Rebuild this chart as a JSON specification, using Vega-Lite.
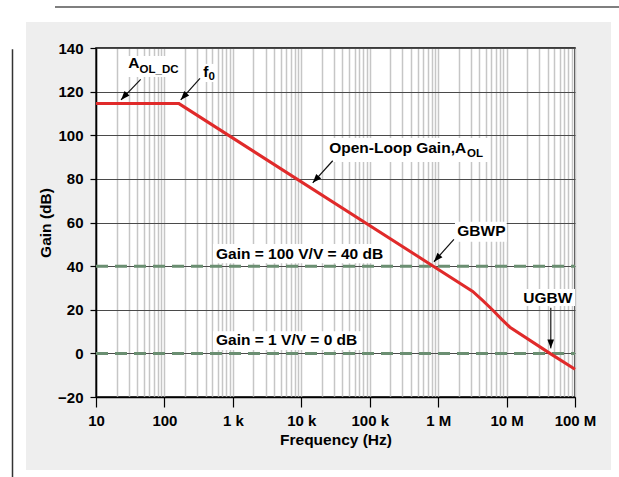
{
  "$schema": "https://vega.github.io/schema/vega-lite/v6.json",
  "width": 479,
  "height": 349,
  "autosize": {"type": "none"},
  "padding": {"left": 96, "top": 48, "right": 44, "bottom": 80},
  "background": "#eeeeee",
  "config": {
    "font": "Liberation Sans",
    "view": {"fill": "white", "stroke": "black", "strokeWidth": 1.5},
    "axis": {
      "domainColor": "black",
      "domainWidth": 1.5,
      "tickColor": "black",
      "tickWidth": 1.2,
      "labelFont": "Liberation Sans",
      "labelFontSize": 15,
      "labelFontWeight": "bold",
      "labelColor": "black",
      "titleFont": "Liberation Sans",
      "titleFontSize": 15.5,
      "titleFontWeight": "bold",
      "titleColor": "black"
    }
  },
  "datasets": {
    "aol": [
      {"freq": 10, "gain": 114.5},
      {"freq": 163, "gain": 114.5},
      {"freq": 3200000, "gain": 28.4},
      {"freq": 4500000, "gain": 24.2},
      {"freq": 6200000, "gain": 20.0},
      {"freq": 8500000, "gain": 15.6},
      {"freq": 11200000, "gain": 12.0},
      {"freq": 43000000, "gain": 0.0},
      {"freq": 100000000, "gain": -7.3}
    ],
    "levels": [
      {"freq": 10, "freq2": 100000000, "gain": 40},
      {"freq": 10, "freq2": 100000000, "gain": 0}
    ],
    "boxes": [
      {"freq": 27.4, "freq2": 174.6, "gain": 136.3, "gain2": 126.7},
      {"freq": 342, "freq2": 567, "gain": 132.7, "gain2": 124.4},
      {"freq": 22960, "freq2": 5360000, "gain": 98.7, "gain2": 87.7},
      {"freq": 1760000, "freq2": 10050000, "gain": 60.4, "gain2": 51.2},
      {"freq": 513, "freq2": 173000, "gain": 50.1, "gain2": 41.3},
      {"freq": 513, "freq2": 74700, "gain": 10.2, "gain2": 1.6},
      {"freq": 16300000, "freq2": 100000000, "gain": 29.5, "gain2": 21.7}
    ],
    "slantArrows": [
      {"freq": 45.0, "gain": 125.6, "freq2": 23.2, "gain2": 116.2},
      {"freq": 331, "gain": 126.1, "freq2": 173, "gain2": 116.2},
      {"freq": 28800, "gain": 88.3, "freq2": 14700, "gain2": 78.2},
      {"freq": 1700000, "gain": 52.3, "freq2": 869000, "gain2": 42.0}
    ],
    "downArrows": [
      {"freq": 44200000, "gain": 20.9, "freq2": 44200000, "gain2": 2.3}
    ],
    "labels": [
      {"text": "A", "freq": 29.6, "gain": 130.7},
      {"text": "f", "freq": 370, "gain": 126.6},
      {"text": "Open-Loop Gain,A", "freq": 25600, "gain": 92.0},
      {"text": "GBWP", "freq": 1905000, "gain": 53.8},
      {"text": "Gain = 100 V/V = 40 dB", "freq": 567, "gain": 43.1},
      {"text": "Gain = 1 V/V = 0 dB", "freq": 567, "gain": 3.8},
      {"text": "UGBW", "freq": 17500000, "gain": 22.9}
    ],
    "subscripts": [
      {"text": "OL_DC", "freq": 43.3, "gain": 128.4},
      {"text": "0", "freq": 440, "gain": 125.3},
      {"text": "OL", "freq": 2650000, "gain": 89.9}
    ]
  },
  "layer": [
    {
      "data": {"name": "boxes"},
      "mark": {"type": "rect", "fill": "white"},
      "encoding": {
        "x": {"field": "freq", "type": "quantitative", "scale": {"type": "log", "domain": [10, 100000000], "nice": false}},
        "x2": {"field": "freq2"},
        "y": {"field": "gain", "type": "quantitative", "scale": {"domain": [-20, 140], "nice": false, "zero": false}},
        "y2": {"field": "gain2"}
      }
    },
    {
      "data": {"name": "levels"},
      "mark": {"type": "rule", "color": "#6b8f72", "strokeWidth": 3, "strokeDash": [12, 7], "strokeCap": "butt"},
      "encoding": {
        "x": {"field": "freq", "type": "quantitative", "scale": {"type": "log", "domain": [10, 100000000], "nice": false}},
        "x2": {"field": "freq2"},
        "y": {"field": "gain", "type": "quantitative", "scale": {"domain": [-20, 140], "nice": false, "zero": false}}
      }
    },
    {
      "data": {"name": "aol"},
      "mark": {"type": "line", "color": "#e02a2a", "strokeWidth": 3, "strokeJoin": "miter"},
      "encoding": {
        "x": {
          "field": "freq",
          "type": "quantitative",
          "scale": {"type": "log", "domain": [10, 100000000], "nice": false},
          "axis": {
            "title": "Frequency (Hz)",
            "titlePadding": 4,
            "values": [10, 20, 30, 40, 50, 60, 70, 80, 90,
                       100, 200, 300, 400, 500, 600, 700, 800, 900,
                       1000, 2000, 3000, 4000, 5000, 6000, 7000, 8000, 9000,
                       10000, 20000, 30000, 40000, 50000, 60000, 70000, 80000, 90000,
                       100000, 200000, 300000, 400000, 500000, 600000, 700000, 800000, 900000,
                       1000000, 2000000, 3000000, 4000000, 5000000, 6000000, 7000000, 8000000, 9000000,
                       10000000, 20000000, 30000000, 40000000, 50000000, 60000000, 70000000, 80000000, 90000000,
                       100000000],
            "labelExpr": "datum.value == 10 ? '10' : datum.value == 100 ? '100' : datum.value == 1000 ? '1 k' : datum.value == 10000 ? '10 k' : datum.value == 100000 ? '100 k' : datum.value == 1000000 ? '1 M' : datum.value == 10000000 ? '10 M' : datum.value == 100000000 ? '100 M' : ''",
            "labelFlush": false,
            "labelOverlap": false,
            "labelPadding": 6,
            "tickSize": 10,
            "tickOpacity": {
              "condition": {"test": "indexof([10,100,1000,10000,100000,1000000,10000000,100000000], datum.value) >= 0", "value": 1},
              "value": 0
            },
            "grid": true,
            "gridColor": "#c6c6c6",
            "gridWidth": 1.5
          }
        },
        "y": {
          "field": "gain",
          "type": "quantitative",
          "scale": {"domain": [-20, 140], "nice": false, "zero": false},
          "axis": {
            "title": "Gain (dB)",
            "titlePadding": 4,
            "values": [-20, 0, 20, 40, 60, 80, 100, 120, 140],
            "labelExpr": "(datum.value < 0 ? '\u2212' : '') + abs(datum.value)",
            "labelPadding": 7,
            "tickSize": 6,
            "grid": true,
            "gridColor": "#4a4a4a",
            "gridWidth": 1.2
          }
        }
      }
    },
    {
      "data": {"name": "slantArrows"},
      "mark": {"type": "rule", "color": "#111111", "strokeWidth": 1.2},
      "encoding": {
        "x": {"field": "freq", "type": "quantitative"},
        "x2": {"field": "freq2"},
        "y": {"field": "gain", "type": "quantitative"},
        "y2": {"field": "gain2"}
      }
    },
    {
      "data": {"name": "slantArrows"},
      "mark": {"type": "point", "shape": "M0,0L0.6,1.6L-0.6,1.6Z", "filled": true, "color": "black", "opacity": 1, "size": 125, "angle": 222},
      "encoding": {
        "x": {"field": "freq2", "type": "quantitative"},
        "y": {"field": "gain2", "type": "quantitative"}
      }
    },
    {
      "data": {"name": "downArrows"},
      "mark": {"type": "rule", "color": "#444444", "strokeWidth": 1.5},
      "encoding": {
        "x": {"field": "freq", "type": "quantitative"},
        "x2": {"field": "freq2"},
        "y": {"field": "gain", "type": "quantitative"},
        "y2": {"field": "gain2"}
      }
    },
    {
      "data": {"name": "downArrows"},
      "mark": {"type": "point", "shape": "M0,0L0.6,1.6L-0.6,1.6Z", "filled": true, "color": "black", "opacity": 1, "size": 125, "angle": 180},
      "encoding": {
        "x": {"field": "freq2", "type": "quantitative"},
        "y": {"field": "gain2", "type": "quantitative"}
      }
    },
    {
      "data": {"name": "labels"},
      "mark": {"type": "text", "align": "left", "baseline": "alphabetic", "font": "Liberation Sans", "fontSize": 15.5, "fontWeight": "bold", "color": "black"},
      "encoding": {
        "x": {"field": "freq", "type": "quantitative"},
        "y": {"field": "gain", "type": "quantitative"},
        "text": {"field": "text"}
      }
    },
    {
      "data": {"name": "subscripts"},
      "mark": {"type": "text", "align": "left", "baseline": "alphabetic", "font": "Liberation Sans", "fontSize": 11.5, "fontWeight": "bold", "color": "black"},
      "encoding": {
        "x": {"field": "freq", "type": "quantitative"},
        "y": {"field": "gain", "type": "quantitative"},
        "text": {"field": "text"}
      }
    },
    {
      "data": {"values": [{}]},
      "mark": {"type": "rect", "fill": "white", "clip": false},
      "encoding": {
        "x": {"datum": 0.001, "type": "quantitative"},
        "x2": {"datum": 10000000000},
        "y": {"datum": 151.92, "type": "quantitative"},
        "y2": {"datum": 250}
      }
    },
    {
      "data": {"values": [{}]},
      "mark": {"type": "rect", "fill": "white", "clip": false},
      "encoding": {
        "x": {"datum": 0.001, "type": "quantitative"},
        "x2": {"datum": 10000000000},
        "y": {"datum": -53.47, "type": "quantitative"},
        "y2": {"datum": -100}
      }
    },
    {
      "data": {"values": [{}]},
      "mark": {"type": "rect", "fill": "white", "clip": false},
      "encoding": {
        "x": {"datum": 0.001, "type": "quantitative"},
        "x2": {"datum": 0.9485},
        "y": {"datum": -100, "type": "quantitative"},
        "y2": {"datum": 250}
      }
    },
    {
      "data": {"values": [{}]},
      "mark": {"type": "rect", "fill": "white", "clip": false},
      "encoding": {
        "x": {"datum": 335800000, "type": "quantitative"},
        "x2": {"datum": 10000000000},
        "y": {"datum": -100, "type": "quantitative"},
        "y2": {"datum": 250}
      }
    },
    {
      "data": {"values": [{}]},
      "mark": {"type": "rule", "color": "#555555", "strokeWidth": 1.5, "clip": false},
      "encoding": {
        "x": {"datum": 2.516, "type": "quantitative"},
        "x2": {"datum": 10000000000},
        "y": {"datum": 158.8, "type": "quantitative"}
      }
    },
    {
      "data": {"values": [{}]},
      "mark": {"type": "rule", "color": "#333333", "strokeWidth": 1.5, "clip": false},
      "encoding": {
        "x": {"datum": 0.6022, "type": "quantitative"},
        "y": {"datum": 139.4, "type": "quantitative"},
        "y2": {"datum": -100}
      }
    }
  ]
}
